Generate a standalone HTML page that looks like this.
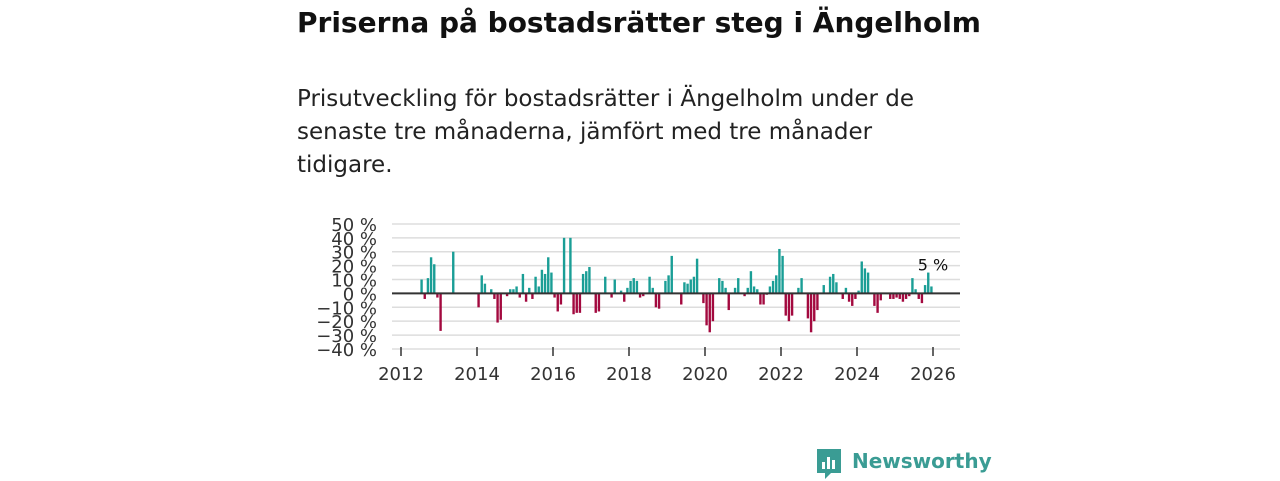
<!DOCTYPE html>
<html><head><meta charset="utf-8"><style>
body{margin:0;width:1280px;height:480px;background:#fff;font-family:"DejaVu Sans","Liberation Sans",sans-serif;overflow:hidden;position:relative}
h1{position:absolute;left:297px;top:6px;margin:0;font-size:28px;font-weight:bold;color:#111;white-space:nowrap}
p{position:absolute;left:297px;top:83px;margin:0;font-size:23px;line-height:33px;color:#222;width:640px}
svg{position:absolute;left:0;top:0}
</style></head><body>
<h1>Priserna på bostadsrätter steg i Ängelholm</h1>
<p>Prisutveckling för bostadsrätter i Ängelholm under de senaste tre månaderna, jämfört med tre månader tidigare.</p>
<svg id="c" width="1280" height="480"></svg>
<script>
const startYear = 2012, startMonth = 7;
const values = [10,-4,11,26,21,-3,
-27,0,0,0,30,0,0,0,0,0,0,0,
-10,13,7,0,3,-4,-21,-19,0,-2,3,3,
5,-3,14,-6,4,-4,12,5,17,14,26,15,
-3,-13,-8,40,0,40,-15,-14,-14,14,16,19,
0,-14,-13,0,12,0,-3,10,0,2,-6,4,
9,11,9,-3,-2,0,12,4,-10,-11,0,9,
13,27,0,0,-8,8,7,10,12,25,0,-7,
-23,-28,-20,0,11,9,4,-12,0,4,11,0,
-2,4,16,5,3,-8,-8,-1,5,9,13,32,
27,-16,-20,-16,0,4,11,0,-18,-28,-20,-12,
0,6,0,12,14,8,0,-4,4,-6,-9,-4,
2,23,18,15,0,-9,-14,-5,0,0,-4,-4,
-3,-4,-6,-4,-2,11,3,-4,-7,6,15,5];
const yTicks=[50,40,30,20,10,0,-10,-20,-30,-40];
const xTicks=[2012,2014,2016,2018,2020,2022,2024,2026];
const NS='http://www.w3.org/2000/svg', svg=document.getElementById('c');
const y=v=>293.4-v*1.389, x=t=>401+(t-2012)*38;
function mk(t,a,p){const e=document.createElementNS(NS,t);for(const k in a)e.setAttribute(k,a[k]);(p||svg).appendChild(e);return e;}
yTicks.forEach(v=>{
 const g=mk('line',{x1:392,x2:960,y1:y(v),y2:y(v),stroke:'#ddd','stroke-width':1.5});
 
 
 const t=mk('text',{x:377,y:y(v)+7,'text-anchor':'end','font-size':18,fill:'#333'});
 t.textContent=(v<0?'\u2212'+(-v):v)+' %';
 
 
});
values.forEach((v,i)=>{
 if(v===0)return;
 const t=startYear+(startMonth-1+i)/12+0.5/12, cx=x(t);
 const r=mk('rect',{x:cx-1.2,width:2.4,y:Math.min(y(v),y(0)),height:Math.abs(y(v)-y(0)),fill:v>0?'#1a9e96':'#a3093f'});
 
 
});
const z=mk('line',{x1:392,x2:960,y1:y(0),y2:y(0),stroke:'#333','stroke-width':2});


xTicks.forEach(yr=>{
 const l=mk('line',{x1:x(yr),x2:x(yr),y1:347,y2:356,stroke:'#333','stroke-width':1.5});
 
 
 const t=mk('text',{x:x(yr),y:380,'text-anchor':'middle','font-size':18,fill:'#333'});
 t.textContent=yr;
 
 
});
const last=values[values.length-1];
const lb=mk('text',{x:933,y:y(last)-16,'text-anchor':'middle','font-size':16,fill:'#111'});
lb.textContent=last+' %';


</script>
<div style="position:absolute;left:815px;top:447px;display:flex;align-items:center">
<svg width="28" height="34" style="position:static"><path d="M2 2h24v24h-10l-6 6v-6H2z" fill="#3a9c94"/><rect x="7" y="15" width="3" height="7" fill="#fff"/><rect x="12" y="10" width="3" height="12" fill="#fff"/><rect x="17" y="13" width="3" height="9" fill="#fff"/></svg>
<span style="font-size:20px;font-weight:bold;color:#3a9c94;margin-left:9px;margin-top:-6px">Newsworthy</span></div>
</body></html>
